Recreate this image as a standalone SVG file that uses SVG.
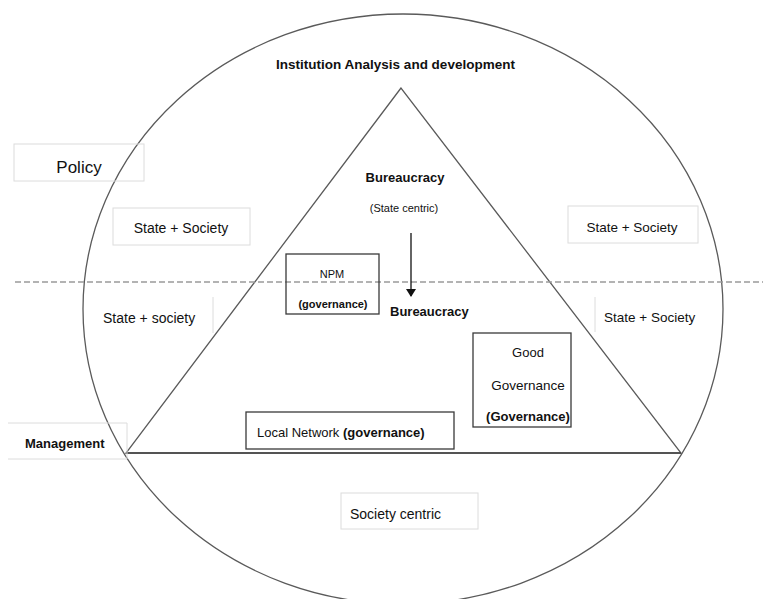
<svg xmlns="http://www.w3.org/2000/svg" width="763" height="599" viewBox="0 0 763 599">
<style>
text{font-family:"Liberation Sans",Arial,sans-serif;fill:#111}
.b{font-weight:bold}
.lb{fill:none;stroke:#dcdcdc;stroke-width:1}
.db{fill:#fff;stroke:#3a3a3a;stroke-width:1.3}
.sh{fill:none;stroke:#5a5a5a;stroke-width:1.3}
</style>
<defs>
<marker id="ah" markerWidth="8" markerHeight="10" refX="7" refY="5" orient="auto" markerUnits="userSpaceOnUse">
<path d="M0,0 L8,5 L0,10 Z" fill="#111"/>
</marker>
</defs>
<rect width="763" height="599" fill="#fff"/>
<g id="shapes">
<ellipse cx="403" cy="309" rx="320" ry="295" class="sh"/>
<path d="M401,88 L126,453 L681,453 Z" class="sh"/>
<line x1="126" y1="453" x2="681" y2="453" stroke="#444" stroke-width="1.4"/>
<line x1="15" y1="282" x2="763" y2="282" stroke="#9a9a9a" stroke-width="1.3" stroke-dasharray="6 3"/>
</g>
<g id="connectors">
<line x1="411" y1="233" x2="411" y2="296" stroke="#111" stroke-width="1.3" marker-end="url(#ah)"/>
</g>
<g id="title"><text class="b" x="395.5" y="69" font-size="13.5" text-anchor="middle">Institution Analysis and development</text></g>
<g id="policy"><rect x="14" y="144" width="130" height="37" class="lb"/><text x="79" y="173" font-size="17" text-anchor="middle">Policy</text></g>
<g id="state-society-ul"><rect x="113" y="208" width="137" height="37" class="lb"/><text x="181" y="233" font-size="14" text-anchor="middle">State + Society</text></g>
<g id="state-society-ur"><rect x="568" y="206" width="130" height="37" class="lb"/><text x="632" y="232" font-size="13.5" text-anchor="middle">State + Society</text></g>
<g id="state-society-ll"><line x1="213" y1="297" x2="213" y2="333" class="lb"/><text x="103" y="323" font-size="14">State + society</text></g>
<g id="state-society-lr"><line x1="595" y1="297" x2="595" y2="332" class="lb"/><text x="604" y="322" font-size="13.5">State + Society</text></g>
<g id="management"><path d="M8,423 H127 V459 H8" class="lb"/><text class="b" x="25" y="448" font-size="13">Management</text></g>
<g id="bureaucracy-top"><text class="b" x="405" y="182" font-size="13" text-anchor="middle">Bureaucracy</text><text x="404" y="212" font-size="11" text-anchor="middle">(State centric)</text></g>
<g id="npm"><rect x="286" y="254" width="93" height="60" class="db" fill-opacity="0"/><text x="332" y="278" font-size="11" text-anchor="middle">NPM</text><text class="b" x="333" y="308" font-size="11" text-anchor="middle">(governance)</text></g>
<g id="bureaucracy-bottom"><text class="b" x="390" y="316" font-size="13">Bureaucracy</text></g>
<g id="good-governance"><rect x="473" y="333" width="98" height="94" class="db"/><text x="528" y="357" font-size="13" text-anchor="middle">Good</text><text x="528" y="390" font-size="13.5" text-anchor="middle">Governance</text><text class="b" x="528" y="421" font-size="13" text-anchor="middle">(Governance)</text></g>
<g id="local-network"><rect x="246" y="412" width="208" height="37" class="db"/><text x="257" y="437" font-size="13">Local Network <tspan class="b">(governance)</tspan></text></g>
<g id="society-centric"><rect x="341" y="493" width="137" height="36" class="lb"/><text x="350" y="519" font-size="14">Society centric</text></g>
</svg>
